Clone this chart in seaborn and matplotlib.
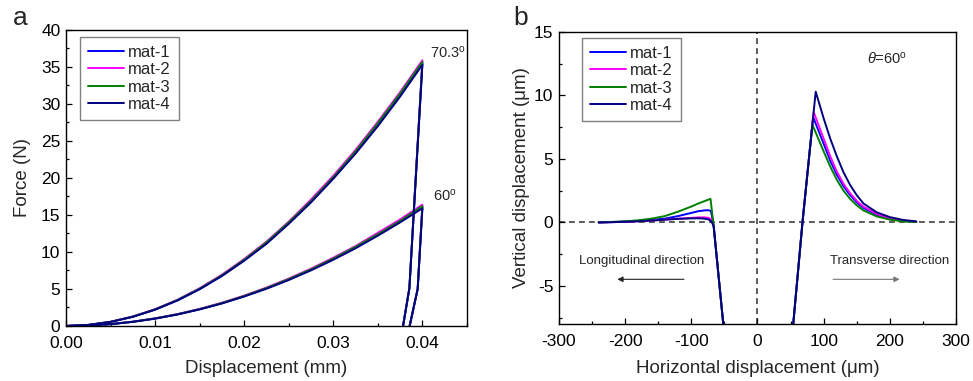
import matplotlib
matplotlib.use("Agg")
import matplotlib.pyplot as plt
import seaborn as sns
import pandas as pd
from matplotlib.ticker import MultipleLocator

# ---------------- data ----------------
materials = ["mat-1", "mat-2", "mat-3", "mat-4"]
colors = ["#0000FF", "#FF00FF", "#008000", "#000080"]

# panel a: force-displacement (loading then unloading)
disp_load = [0, 0.0025, 0.005, 0.0075, 0.01, 0.0125, 0.015, 0.0175, 0.02,
             0.0225, 0.025, 0.0275, 0.03, 0.0325, 0.035, 0.0375, 0.04]

f703_mat1 = [0, 0.14, 0.55, 1.25, 2.22, 3.47, 5.00, 6.80, 8.88, 11.2, 13.9, 16.8, 20.0, 23.4, 27.2, 31.2, 35.5]
f703_mat2 = [0, 0.15, 0.57, 1.28, 2.27, 3.54, 5.10, 6.93, 9.05, 11.4, 14.1, 17.1, 20.3, 23.8, 27.6, 31.6, 35.9]
f703_mat3 = [0, 0.14, 0.56, 1.26, 2.24, 3.50, 5.04, 6.85, 8.95, 11.3, 14.0, 16.9, 20.1, 23.6, 27.4, 31.4, 35.7]
f703_mat4 = [0, 0.14, 0.55, 1.24, 2.20, 3.44, 4.96, 6.75, 8.82, 11.1, 13.8, 16.7, 19.9, 23.3, 27.0, 31.0, 35.3]

f60_mat1 = [0, 0.06, 0.25, 0.57, 1.01, 1.57, 2.26, 3.08, 4.03, 5.10, 6.29, 7.61, 9.06, 10.6, 12.3, 14.2, 16.1]
f60_mat2 = [0, 0.06, 0.26, 0.58, 1.03, 1.60, 2.31, 3.14, 4.10, 5.19, 6.41, 7.75, 9.23, 10.8, 12.6, 14.4, 16.4]
f60_mat3 = [0, 0.06, 0.25, 0.57, 1.02, 1.58, 2.28, 3.10, 4.05, 5.13, 6.33, 7.66, 9.11, 10.7, 12.4, 14.2, 16.2]
f60_mat4 = [0, 0.06, 0.25, 0.56, 0.99, 1.55, 2.24, 3.04, 3.98, 5.03, 6.21, 7.52, 8.95, 10.5, 12.2, 14.0, 15.9]

unload703_x = [0.03854, 0.03783]
unload703_y = [5.1, 0.0]
unload60_x = [0.03947, 0.03857]
unload60_y = [5.0, 0.0]

# panel b: surface profiles
long_x_mat1 = [-240, -220, -200, -180, -160, -140, -120, -100, -90, -80, -74, -70.5, -67.2, -66.2, -49.8]
long_y_mat1 = [0, 0.03, 0.07, 0.12, 0.2, 0.3, 0.5, 0.75, 0.88, 0.95, 0.96, 0.9, 0.1, -0.3, -9.0]
long_x_mat2 = [-240, -220, -200, -180, -160, -140, -120, -100, -90, -80, -74, -70, -67.8, -66.2, -49.8]
long_y_mat2 = [0, 0.02, 0.05, 0.09, 0.15, 0.22, 0.3, 0.36, 0.4, 0.4, 0.36, 0.25, 0.0, -0.3, -9.0]
long_x_mat3 = [-240, -220, -200, -180, -160, -140, -120, -100, -90, -80, -71, -66.2, -49.8]
long_y_mat3 = [0, 0.04, 0.09, 0.17, 0.3, 0.5, 0.85, 1.25, 1.48, 1.68, 1.86, -0.3, -9.0]
long_x_mat4 = [-240, -220, -200, -180, -160, -140, -120, -100, -90, -80, -74, -70, -67.5, -66.2, -49.8]
long_y_mat4 = [0, 0.02, 0.05, 0.09, 0.15, 0.22, 0.28, 0.32, 0.33, 0.3, 0.24, 0.1, -0.15, -0.3, -9.0]

trans_x_mat1 = [52.3, 68, 84.1, 100, 110, 120, 130, 140, 150, 160, 180, 200, 220, 240]
trans_y_mat1 = [-9, 0, 8.3, 6.2, 4.85, 3.75, 2.85, 2.15, 1.58, 1.15, 0.6, 0.28, 0.12, 0.05]
trans_x_mat2 = [52.3, 68, 84.9, 100, 110, 120, 130, 140, 150, 160, 180, 200, 220, 240]
trans_y_mat2 = [-9, 0, 8.7, 6.6, 5.2, 4.0, 3.05, 2.3, 1.7, 1.25, 0.68, 0.33, 0.14, 0.05]
trans_x_mat3 = [52.3, 68, 83.0, 100, 110, 120, 130, 140, 150, 160, 180, 200, 220, 240]
trans_y_mat3 = [-9, 0, 7.7, 5.6, 4.4, 3.35, 2.5, 1.85, 1.35, 0.95, 0.48, 0.22, 0.08, 0.03]
trans_x_mat4 = [52.3, 68, 88, 100, 110, 120, 130, 140, 150, 160, 180, 200, 220, 240]
trans_y_mat4 = [-9, 0, 10.3, 8.2, 6.6, 5.2, 3.95, 2.95, 2.15, 1.5, 0.8, 0.42, 0.2, 0.08]

# ---------------- build tables ----------------
f703 = [f703_mat1, f703_mat2, f703_mat3, f703_mat4]
f60 = [f60_mat1, f60_mat2, f60_mat3, f60_mat4]
rows_a = []
for m, a, b in zip(materials, f703, f60):
    for seg, fl, ux, uy in (("70.3", a, unload703_x, unload703_y), ("60", b, unload60_x, unload60_y)):
        xs = disp_load + ux
        ys = fl + uy
        for i, (x, y) in enumerate(zip(xs, ys)):
            rows_a.append({"x": x, "y": y, "mat": m, "unit": m + seg, "order": i})
df_a = pd.DataFrame(rows_a)

lx = [long_x_mat1, long_x_mat2, long_x_mat3, long_x_mat4]
ly = [long_y_mat1, long_y_mat2, long_y_mat3, long_y_mat4]
tx = [trans_x_mat1, trans_x_mat2, trans_x_mat3, trans_x_mat4]
ty = [trans_y_mat1, trans_y_mat2, trans_y_mat3, trans_y_mat4]
rows_b = []
for m, a, b, c, d in zip(materials, lx, ly, tx, ty):
    for seg, xs, ys in (("L", a, b), ("T", c, d)):
        for i, (x, y) in enumerate(zip(xs, ys)):
            rows_b.append({"x": x, "y": y, "mat": m, "unit": m + seg, "order": i})
df_b = pd.DataFrame(rows_b)

# ---------------- style ----------------
sns.set_style("ticks")
plt.rcParams["font.family"] = ["Liberation Sans", "DejaVu Sans"]
plt.rcParams["mathtext.fontset"] = "custom"
plt.rcParams["mathtext.rm"] = "Liberation Sans"
plt.rcParams["mathtext.it"] = "Liberation Sans:italic"
plt.rcParams["axes.edgecolor"] = "black"
plt.rcParams["axes.linewidth"] = 1.0
plt.rcParams["axes.unicode_minus"] = False

fig = plt.figure(figsize=(9.73, 3.81), dpi=100)
ax1 = fig.add_axes([0.0678, 0.1444, 0.4121, 0.7769])
ax2 = fig.add_axes([0.5745, 0.1496, 0.4080, 0.7664])

pal = dict(zip(materials, colors))

sns.lineplot(data=df_a, x="x", y="y", hue="mat", units="unit", estimator=None,
             sort=False, palette=pal, hue_order=materials, linewidth=1.4, ax=ax1)
sns.lineplot(data=df_b, x="x", y="y", hue="mat", units="unit", estimator=None,
             sort=False, palette=pal, hue_order=materials, linewidth=1.4, ax=ax2)

TICK = 12.5
LAB = 13.5

# panel a
ax1.set_xlim(0, 0.045)
ax1.set_ylim(0, 40)
ax1.xaxis.set_major_locator(MultipleLocator(0.01))
ax1.xaxis.set_minor_locator(MultipleLocator(0.005))
ax1.yaxis.set_major_locator(MultipleLocator(5))
ax1.yaxis.set_minor_locator(MultipleLocator(2.5))
ax1.set_xticklabels([f"{v:.2f}" for v in ax1.get_xticks()])
ax1.set_xlabel("Displacement (mm)", fontsize=LAB, labelpad=7)
ax1.set_ylabel("Force (N)", fontsize=LAB, labelpad=7)
ax1.text(0.0409, 36.3, r"70.3$^{\rm o}$", fontsize=10.5)
ax1.text(0.0412, 17.0, r"60$^{\rm o}$", fontsize=10.5)

# panel b
ax2.set_xlim(-300, 300)
ax2.set_ylim(-8, 15)
ax2.xaxis.set_major_locator(MultipleLocator(100))
ax2.xaxis.set_minor_locator(MultipleLocator(50))
ax2.yaxis.set_major_locator(MultipleLocator(5))
ax2.yaxis.set_minor_locator(MultipleLocator(2.5))
ax2.axhline(0, color="#404040", lw=1.2, ls=(0, (3.5, 2.5)), zorder=0)
ax2.axvline(0, color="#404040", lw=1.2, ls=(0, (3.5, 2.5)), zorder=0)
ax2.set_xlabel("Horizontal displacement (μm)", fontsize=LAB, labelpad=8)
ax2.set_ylabel("Vertical displacement (μm)", fontsize=LAB, labelpad=3)
ax2.text(165, 12.5, r"$\theta$=60$^{\rm o}$", fontsize=10.5)
ax2.text(-175, -3.05, "Longitudinal direction", fontsize=9.5, ha="center", va="center")
ax2.text(200, -3.05, "Transverse direction", fontsize=9.5, ha="center", va="center")
ax2.annotate("", xy=(-216, -4.48), xytext=(-107, -4.48),
             arrowprops=dict(arrowstyle="-|>", color="#222222", lw=0.8, mutation_scale=8))
ax2.annotate("", xy=(219, -4.48), xytext=(110, -4.48),
             arrowprops=dict(arrowstyle="-|>", color="#777777", lw=0.8, mutation_scale=8))

for ax in (ax1, ax2):
    for s in ax.spines.values():
        s.set_visible(True)
        s.set_color("black")
        s.set_linewidth(1.0)
    ax.tick_params(which="both", direction="in", top=False, right=False,
                   labelsize=TICK, colors="black")
    ax.tick_params(which="major", length=4.5, width=0.9)
    ax.tick_params(which="minor", length=2.5, width=0.9)
    ax.tick_params(axis="x", which="major", pad=7)
    ax.tick_params(axis="y", which="major", pad=4)

leg_kw = dict(title=None, frameon=True, fancybox=False, fontsize=12,
              handlelength=2.2, handletextpad=0.25, labelspacing=0.15,
              borderpad=0.45, borderaxespad=0)
sns.move_legend(ax1, "upper left", bbox_to_anchor=(0.035, 0.976), **leg_kw)
sns.move_legend(ax2, "upper left", bbox_to_anchor=(0.058, 0.979), **leg_kw)
for ax in (ax1, ax2):
    fr = ax.get_legend().get_frame()
    fr.set_edgecolor("#808080")
    fr.set_linewidth(1.0)
    fr.set_alpha(1)

fig.text(0.013, 0.934, "a", fontsize=19)
fig.text(0.528, 0.934, "b", fontsize=19)

fig.savefig("out.png", dpi=100)
